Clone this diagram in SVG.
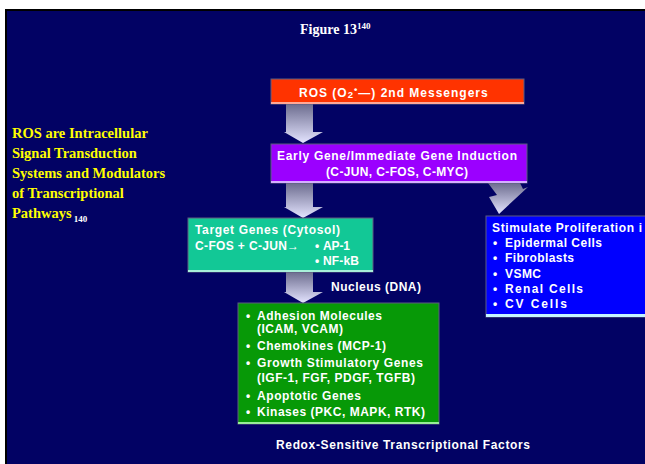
<svg xmlns="http://www.w3.org/2000/svg" width="645" height="464" viewBox="0 0 645 464">
  <defs>
    <linearGradient id="blockFill" x1="0" y1="0" x2="0" y2="1">
      <stop offset="0" stop-color="#6c6c8e"/>
      <stop offset="1" stop-color="#e4e4ff"/>
    </linearGradient>
    <style>
      .lbl { font-family: "Liberation Sans", Arial, sans-serif; font-weight: bold; fill: #ffffff; font-size: 12px; }
      .side { font-family: "Liberation Serif", "Times New Roman", serif; font-weight: bold; fill: #ffff00; font-size: 14.5px; }
      .box { stroke: #5c5c80; stroke-width: 1; }
      .arrow { fill: url(#blockFill); }
    </style>
  </defs>

  <!-- slide frame -->
  <rect x="0" y="0" width="645" height="464" fill="#ffffff"/>
  <rect x="5" y="9" width="640" height="455" fill="#000000"/>
  <rect x="7" y="11" width="638" height="453" fill="#020264"/>

  <!-- heading -->
  <text x="300" y="34" font-family="'Liberation Serif', 'Times New Roman', serif" font-weight="bold" font-size="14" fill="#ffffff">Figure 13<tspan font-size="9" dy="-5">140</tspan></text>

  <!-- side caption -->
  <g id="caption">
    <text class="side" x="12" y="138">ROS are Intracellular</text>
    <text class="side" x="12" y="158">Signal Transduction</text>
    <text class="side" x="12" y="178">Systems and Modulators</text>
    <text class="side" x="12" y="198">of Transcriptional</text>
    <text class="side" x="12" y="218">Pathways<tspan font-size="9" fill="#ffffff" dx="2" dy="4">140</tspan></text>
  </g>

  <!-- connectors -->
  <g id="connectors">
    <path class="arrow" d="M286,104 L313,104 L313,132 L323,132 L303,143 L284,132 L286,132 Z"/>
    <path class="arrow" d="M286,183 L313,183 L313,207 L323,207 L303,218 L284,207 L286,207 Z"/>
    <path class="arrow" d="M286,272 L313,272 L313,292 L323,292 L303,303 L284,292 L286,292 Z"/>
    <path class="arrow" d="M488,183 L520,183 C521,185 522,187 523,189 L528,187 L499,214 L489,197 L497,195 C494,191 491,187 488,183 Z"/>
    <text class="lbl" x="331" y="291" font-size="11" textLength="90" lengthAdjust="spacing">Nucleus (DNA)</text>
  </g>

  <!-- ROS source -->
  <g id="ros">
    <rect class="box" x="271" y="79" width="253" height="25" fill="#ff3300"/>
    <rect x="271" y="102" width="253" height="2" fill="#ffa898"/>
    <text class="lbl" x="299" y="97" font-size="13.5" letter-spacing="1">ROS (O<tspan font-size="9.5" dy="1">2</tspan><tspan font-size="9.5" dy="-5">•</tspan><tspan dy="4">—) 2nd Messengers</tspan></text>
  </g>

  <!-- early gene induction -->
  <g id="early-gene">
    <rect class="box" x="271" y="144" width="256" height="39" fill="#9b00ff"/>
    <rect x="271" y="181" width="256" height="2" fill="#d4b0ff"/>
    <text class="lbl" x="277" y="160" textLength="240" lengthAdjust="spacing">Early Gene/Immediate Gene Induction</text>
    <text class="lbl" x="326" y="176" textLength="142" lengthAdjust="spacing">(C-JUN, C-FOS, C-MYC)</text>
  </g>

  <!-- cytosolic targets -->
  <g id="target-genes">
    <rect class="box" x="188" y="218" width="185" height="54" fill="#12c896"/>
    <rect x="188" y="270" width="185" height="2" fill="#a8f0da"/>
    <text class="lbl" x="195" y="234" textLength="145" lengthAdjust="spacing">Target Genes (Cytosol)</text>
    <text class="lbl" x="195" y="250" textLength="92" lengthAdjust="spacing">C-FOS + C-JUN</text>
    <text class="lbl" x="287" y="250" font-family="'DejaVu Sans', sans-serif" font-size="11">→</text>
    <text class="lbl" x="315" y="250">•</text>
    <text class="lbl" x="323" y="250" textLength="27" lengthAdjust="spacing">AP-1</text>
    <text class="lbl" x="315" y="265">•</text>
    <text class="lbl" x="323" y="265" textLength="36" lengthAdjust="spacing">NF-kB</text>
  </g>

  <!-- nuclear targets -->
  <g id="nuclear-genes">
    <rect class="box" x="238" y="303" width="201" height="121" fill="#079907"/>
    <rect x="238" y="422" width="201" height="2" fill="#98ee98"/>
    <g class="lbl" font-size="11.5">
      <text x="246" y="320">•</text>
      <text x="257" y="320" textLength="125" lengthAdjust="spacing">Adhesion Molecules</text>
      <text x="257" y="333" textLength="86" lengthAdjust="spacing">(ICAM, VCAM)</text>
      <text x="246" y="350">•</text>
      <text x="257" y="350" textLength="129" lengthAdjust="spacing">Chemokines (MCP-1)</text>
      <text x="246" y="367">•</text>
      <text x="257" y="367" textLength="166" lengthAdjust="spacing">Growth Stimulatory Genes</text>
      <text x="257" y="382" textLength="158" lengthAdjust="spacing">(IGF-1, FGF, PDGF, TGFB)</text>
      <text x="246" y="400">•</text>
      <text x="257" y="400" textLength="104" lengthAdjust="spacing">Apoptotic Genes</text>
      <text x="246" y="416">•</text>
      <text x="257" y="416" textLength="168" lengthAdjust="spacing">Kinases (PKC, MAPK, RTK)</text>
    </g>
  </g>

  <!-- proliferation targets -->
  <g id="proliferation">
    <rect class="box" x="486" y="216" width="170" height="101" fill="#0000ff"/>
    <rect x="486" y="314" width="170" height="3" fill="#c4f4ff"/>
    <g class="lbl" font-size="11.5">
      <text x="492" y="232" textLength="150" lengthAdjust="spacing">Stimulate Proliferation i</text>
      <text x="493" y="247">•</text>
      <text x="505" y="247" textLength="97" lengthAdjust="spacing">Epidermal Cells</text>
      <text x="493" y="262">•</text>
      <text x="505" y="262" textLength="69" lengthAdjust="spacing">Fibroblasts</text>
      <text x="493" y="278">•</text>
      <text x="505" y="278" textLength="36" lengthAdjust="spacing">VSMC</text>
      <text x="493" y="293">•</text>
      <text x="505" y="293" textLength="78" lengthAdjust="spacing">Renal Cells</text>
      <text x="493" y="308">•</text>
      <text x="505" y="308" textLength="62" lengthAdjust="spacing">CV Cells</text>
    </g>
  </g>

  <!-- footer -->
  <text class="lbl" x="276" y="449" textLength="254" lengthAdjust="spacing">Redox-Sensitive Transcriptional Factors</text>
</svg>
